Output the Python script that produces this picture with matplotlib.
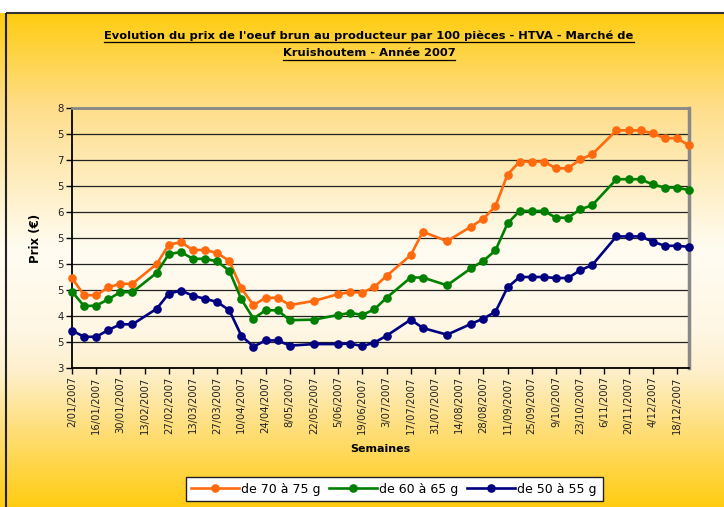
import matplotlib
matplotlib.use('Agg')
import matplotlib.pyplot as plt
import matplotlib.dates as mdates
from matplotlib.lines import Line2D
import numpy as np
from datetime import datetime

# ---------------- data ----------------
dates = ['2007-01-02', '2007-01-09', '2007-01-16', '2007-01-23', '2007-01-30', '2007-02-06',
         '2007-02-20', '2007-02-27', '2007-03-06', '2007-03-13', '2007-03-20', '2007-03-27',
         '2007-04-03', '2007-04-10', '2007-04-17', '2007-04-24', '2007-05-01', '2007-05-08',
         '2007-05-22', '2007-06-05', '2007-06-12', '2007-06-19', '2007-06-26', '2007-07-03',
         '2007-07-17', '2007-07-24', '2007-08-07', '2007-08-21', '2007-08-28', '2007-09-04',
         '2007-09-11', '2007-09-18', '2007-09-25', '2007-10-02', '2007-10-09', '2007-10-16',
         '2007-10-23', '2007-10-30', '2007-11-13', '2007-11-20', '2007-11-27', '2007-12-04',
         '2007-12-11', '2007-12-18', '2007-12-25']

prix_70_75 = [4.73, 4.40, 4.40, 4.55, 4.62, 4.62, 5.00, 5.37, 5.42, 5.27, 5.27, 5.21,
              5.06, 4.53, 4.21, 4.35, 4.35, 4.21, 4.29, 4.42, 4.46, 4.45, 4.56, 4.77,
              5.17, 5.62, 5.44, 5.72, 5.87, 6.11, 6.72, 6.97, 6.97, 6.97, 6.84, 6.84,
              7.01, 7.11, 7.57, 7.57, 7.57, 7.51, 7.42, 7.42, 7.28]

prix_60_65 = [4.47, 4.19, 4.20, 4.32, 4.46, 4.46, 4.83, 5.19, 5.23, 5.10, 5.10, 5.05,
              4.87, 4.32, 3.95, 4.11, 4.11, 3.92, 3.93, 4.02, 4.06, 4.02, 4.13, 4.35,
              4.74, 4.74, 4.59, 4.92, 5.06, 5.26, 5.78, 6.02, 6.02, 6.02, 5.89, 5.89,
              6.05, 6.13, 6.63, 6.63, 6.63, 6.53, 6.47, 6.47, 6.42]

prix_50_55 = [3.72, 3.60, 3.60, 3.73, 3.84, 3.84, 4.14, 4.43, 4.49, 4.39, 4.33, 4.27,
              4.11, 3.62, 3.41, 3.53, 3.53, 3.43, 3.46, 3.46, 3.47, 3.42, 3.49, 3.62,
              3.93, 3.77, 3.64, 3.85, 3.95, 4.08, 4.55, 4.75, 4.75, 4.75, 4.73, 4.73,
              4.88, 4.98, 5.53, 5.53, 5.53, 5.43, 5.35, 5.35, 5.33]

series_labels = ['de 70 à 75 g', 'de 60 à 65 g', 'de 50 à 55 g']
series_colors = ['#FF6A0E', '#008000', '#000080']

tick_dates = ['2007-01-02', '2007-01-16', '2007-01-30', '2007-02-13', '2007-02-27', '2007-03-13',
              '2007-03-27', '2007-04-10', '2007-04-24', '2007-05-08', '2007-05-22', '2007-06-05',
              '2007-06-19', '2007-07-03', '2007-07-17', '2007-07-31', '2007-08-14', '2007-08-28',
              '2007-09-11', '2007-09-25', '2007-10-09', '2007-10-23', '2007-11-06', '2007-11-20',
              '2007-12-04', '2007-12-18']
tick_labels = ['2/01/2007', '16/01/2007', '30/01/2007', '13/02/2007', '27/02/2007', '13/03/2007',
               '27/03/2007', '10/04/2007', '24/04/2007', '8/05/2007', '22/05/2007', '5/06/2007',
               '19/06/2007', '3/07/2007', '17/07/2007', '31/07/2007', '14/08/2007', '28/08/2007',
               '11/09/2007', '25/09/2007', '9/10/2007', '23/10/2007', '6/11/2007', '20/11/2007',
               '4/12/2007', '18/12/2007']
ytick_values = [3, 3.5, 4, 4.5, 5, 5.5, 6, 6.5, 7, 7.5, 8]
ytick_labels = ['3', '5', '4', '5', '5', '5', '6', '5', '7', '5', '8']

title_lines = ["Evolution du prix de l'oeuf brun au producteur par 100 pièces - HTVA - Marché de",
               "Kruishoutem - Année 2007"]
xlabel = 'Semaines'
ylabel = 'Prix (€)'

# ---------------- figure ----------------
W, H = 724, 507
fig = plt.figure(figsize=(W / 100, H / 100), dpi=100)

# background gradient
bg = fig.add_axes([0, 0, 1, 1], zorder=-10)
bg.set_axis_off()
ys = np.arange(H)
stops_y = [0, 12.5, 13, 108, 250, 330, 370, 430, 507]
stops_c = np.array([
    [255, 255, 255],
    [255, 255, 255],
    [255, 204, 16],
    [254, 222, 140],
    [255, 252, 242],
    [255, 247, 228],
    [254, 240, 205],
    [255, 222, 120],
    [255, 204, 16]]) / 255.0
col = np.stack([np.interp(ys, stops_y, stops_c[:, i]) for i in range(3)], axis=1)
img = np.repeat(col[:, None, :], W, axis=1)
bg.imshow(img, extent=[0, W, H, 0], aspect='auto', interpolation='nearest')
bg.set_xlim(0, W)
bg.set_ylim(H, 0)
bg.plot([6, W], [13, 13], color='#333333', lw=1.5, solid_capstyle='butt')
bg.plot([6, 6], [13, H], color='#222222', lw=1.5, solid_capstyle='butt')

# main axes
ax = fig.add_axes([72 / W, (H - 368) / H, (689 - 72) / W, (368 - 108) / H])
ax.set_facecolor('none')

xd = [datetime.strptime(d, '%Y-%m-%d') for d in dates]
for vals, lab, c in zip([prix_70_75, prix_60_65, prix_50_55], series_labels, series_colors):
    ax.plot(xd, vals, color=c, lw=1.9, marker='o', markersize=5.2, label=lab, zorder=3,
            clip_on=False)

ax.set_xlim(datetime(2007, 1, 2), datetime(2007, 12, 25))
ax.set_ylim(3, 8)
ax.set_yticks(ytick_values)
ax.set_yticklabels(ytick_labels, fontsize=7.3, family='DejaVu Sans', color='#222222')
ax.set_xticks([datetime.strptime(d, '%Y-%m-%d') for d in tick_dates])
ax.set_xticklabels(tick_labels, rotation=90, fontsize=7.2, family='DejaVu Sans', color='#222222')
ax.tick_params(axis='both', direction='out', length=4, width=1, color='black', pad=2)
ax.yaxis.grid(True, color='#222222', lw=0.9)
ax.set_axisbelow(True)

for s in ['left', 'bottom']:
    ax.spines[s].set_color('black')
    ax.spines[s].set_linewidth(1.3)
ax.spines['top'].set_color('#888888')
ax.spines['top'].set_linewidth(2)
ax.spines['right'].set_color('#888888')
ax.spines['right'].set_linewidth(2.5)

ax.set_ylabel(ylabel, fontsize=8.5, fontweight='bold', family='DejaVu Sans', labelpad=11)
fig.text(380 / W, 1 - 449 / H, xlabel, ha='center', va='center', fontsize=8,
         fontweight='bold', family='DejaVu Sans')

# title with underline
title_y = [35.5, 53.5]
fig.canvas.draw()
renderer = fig.canvas.get_renderer()
for line, yy in zip(title_lines, title_y):
    t = fig.text(369 / W, 1 - yy / H, line, ha='center', va='center', fontsize=8.25,
                 fontweight='bold', family='DejaVu Sans', color='black')
    bb = t.get_window_extent(renderer=renderer)
    x0, x1 = bb.x0 / W, bb.x1 / W
    yl = (bb.y0 - 1) / H
    fig.add_artist(Line2D([x0, x1], [yl, yl], transform=fig.transFigure, color='black', lw=0.9))

leg = fig.legend(loc='center', bbox_to_anchor=(394 / W, 1 - 489 / H), ncol=3,
                 frameon=True, fancybox=False, edgecolor='#222222', framealpha=1,
                 prop={'family': 'DejaVu Sans', 'size': 9}, handlelength=3.8,
                 handletextpad=0.2, columnspacing=0.7, borderpad=0.45, borderaxespad=0)
leg.get_frame().set_linewidth(1.0)

fig.savefig('out.png', dpi=100)
